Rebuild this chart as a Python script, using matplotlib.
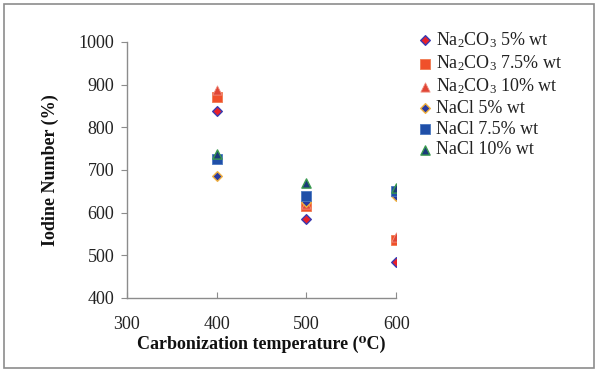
import matplotlib
matplotlib.use("Agg")
import matplotlib.pyplot as plt
from matplotlib.patches import Rectangle

plt.rcParams['font.family'] = ['Liberation Serif', 'DejaVu Serif']
plt.rcParams['mathtext.fontset'] = 'custom'
plt.rcParams['mathtext.rm'] = 'Liberation Serif'
plt.rcParams['mathtext.it'] = 'Liberation Serif:italic'
plt.rcParams['mathtext.bf'] = 'Liberation Serif:bold'

# carbonization temperature (C)
temps = [400, 500, 600]

# iodine number values
na2co3_5 = [838, 585, 484]
na2co3_75 = [870, 615, 536]
na2co3_10 = [888, 620, 542]
nacl_5 = [686, 625, 638]
nacl_75 = [725, 640, 650]
nacl_10 = [737, 670, 658]

labels = [r"Na$_\mathrm{2}$CO$_\mathrm{3}$ 5% wt", r"Na$_\mathrm{2}$CO$_\mathrm{3}$ 7.5% wt",
          r"Na$_\mathrm{2}$CO$_\mathrm{3}$ 10% wt",
          "NaCl 5% wt", "NaCl 7.5% wt", "NaCl 10% wt"]

fig = plt.figure(figsize=(6.04, 3.71), dpi=100)
ax = fig.add_axes([0.210, 0.197, 0.446, 0.690])

# outer frame around the whole picture
fig.patches.append(Rectangle((0.006, 0.008), 0.978, 0.982, transform=fig.transFigure,
                             fill=False, edgecolor='#8c8c8c', linewidth=1.2))

ax.scatter(temps, na2co3_5, marker='D', s=24, color='#e8202a', edgecolors='#3a3ab0', linewidths=1.0, label=labels[0], zorder=3)
ax.scatter(temps, na2co3_75, marker='s', s=44, color='#f0502a', edgecolors='#f07a50', linewidths=0.6, label=labels[1], zorder=3)
ax.scatter(temps, na2co3_10, marker='^', s=44, color='#e04535', edgecolors='#f09080', linewidths=0.6, label=labels[2], zorder=3)
ax.scatter(temps, nacl_5, marker='D', s=24, color='#2a3aa0', edgecolors='#f0b040', linewidths=1.0, label=labels[3], zorder=3)
ax.scatter(temps, nacl_75, marker='s', s=44, color='#1f4fa8', edgecolors='#4a78c0', linewidths=0.6, label=labels[4], zorder=3)
ax.scatter(temps, nacl_10, marker='^', s=44, color='#1a3a7a', edgecolors='#3a9a50', linewidths=1.0, label=labels[5], zorder=3)

ax.set_xlim(300, 600)
ax.set_ylim(400, 1000)
ax.set_xticks([300, 400, 500, 600])
ax.set_yticks(range(400, 1001, 100))

for s in ['top', 'right']:
    ax.spines[s].set_visible(False)
for s in ['left', 'bottom']:
    ax.spines[s].set_color('#8c8c8c')
    ax.spines[s].set_linewidth(1.0)

ax.tick_params(axis='y', direction='out', length=4, color='#8c8c8c', labelsize=13, pad=5, labelcolor='#222222')
ax.tick_params(axis='x', direction='in', length=4, color='#8c8c8c', labelsize=13, pad=13, labelcolor='#222222')

ax.set_xlabel("Carbonization temperature (\u2070C)", fontsize=13, fontweight='bold', labelpad=2, color='#111111')
ax.set_ylabel("Iodine Number (%)", fontsize=13, fontweight='bold', labelpad=14, color='#111111')

ax.legend(loc='upper left', bbox_to_anchor=(0.682, 0.943), bbox_transform=fig.transFigure,
          frameon=False, fontsize=13, handlelength=0.5, handletextpad=0.35,
          labelspacing=0.2, borderpad=0, scatterpoints=1, labelcolor='#222222')

fig.savefig("out.png", dpi=100)
